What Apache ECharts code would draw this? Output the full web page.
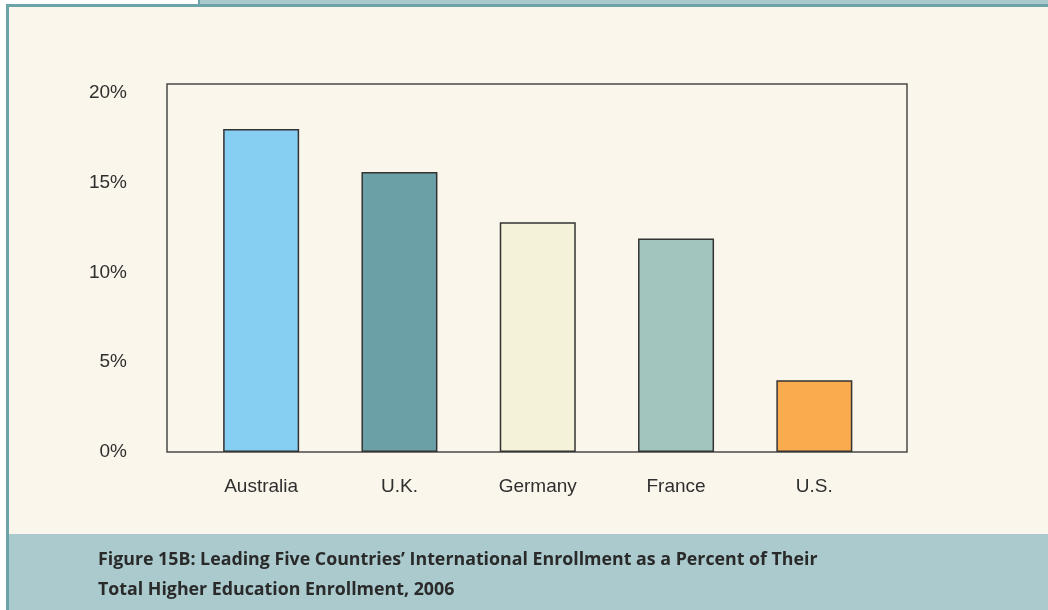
<!DOCTYPE html>
<html>
<head>
<meta charset="utf-8">
<script src="https://cdn.jsdelivr.net/npm/echarts@6/dist/echarts.min.js"></script>
<style>
  html, body { margin: 0; padding: 0; background: #fff; }
  #chart { width: 1048px; height: 610px; }
</style>
</head>
<body>
<div id="chart"></div>
<script>
// data
const countries = ['Australia', 'U.K.', 'Germany', 'France', 'U.S.'];
const enrollmentPct = [18.0, 15.6, 12.8, 11.9, 4.0];
const barColors = ['#87cff2', '#6aa0a6', '#f4f2d8', '#a2c5bd', '#f9ab4d'];
const yStep = 5;
const yMax = 20.5; // frame goes a little above the 20% tick

const axisFont = '"Liberation Sans", Arial, sans-serif';

const chart = echarts.init(document.getElementById('chart'));

const option = {
  backgroundColor: '#ffffff',
  animation: false,
  title: {
    text: 'Figure 15B: Leading Five Countries\u2019 International Enrollment as a Percent of Their\nTotal Higher Education Enrollment, 2006',
    left: 93,
    top: 540,
    textStyle: {
      fontFamily: '"Open Sans", Lato, sans-serif',
      fontWeight: 'bold',
      fontSize: 17.8,
      lineHeight: 30,
      color: '#2a2a2a'
    }
  },
  graphic: [
    // page frame
    { type: 'rect', z: -10, shape: { x: 198, y: 0, width: 850, height: 5 }, style: { fill: '#a9c9cc' } },
    { type: 'rect', z: -10, shape: { x: 9, y: 7, width: 1039, height: 527 }, style: { fill: '#faf6eb' } },
    { type: 'rect', z: -10, shape: { x: 9, y: 534, width: 1039, height: 76 }, style: { fill: '#aacacd' } },
    { type: 'rect', z: -9, shape: { x: 6, y: 4, width: 1042, height: 3 }, style: { fill: '#6aa3a8' } },
    { type: 'rect', z: -9, shape: { x: 6, y: 4, width: 3, height: 606 }, style: { fill: '#6aa3a8' } },
    { type: 'rect', z: -9, shape: { x: 198, y: 0, width: 2, height: 5 }, style: { fill: '#6aa3a8' } }
  ],
  grid: [
    { left: 167, top: 84, width: 740, height: 368, show: true, borderColor: '#4a4a4a', borderWidth: 1.5, backgroundColor: 'transparent' },
    { left: 192, top: 84, width: 691.5, height: 368 }
  ],
  xAxis: [
    { gridIndex: 0, type: 'value', show: false },
    {
      gridIndex: 1,
      type: 'category',
      data: countries,
      axisLine: { show: false },
      axisTick: { show: false },
      axisLabel: { margin: 25, fontFamily: axisFont, fontSize: 19, color: '#2f2f2f' }
    }
  ],
  yAxis: [
    {
      gridIndex: 0,
      type: 'value',
      min: 0,
      max: yMax,
      interval: yStep,
      axisLine: { show: false },
      axisTick: { show: false },
      splitLine: { show: false },
      axisLabel: {
        formatter: '{value}%',
        showMaxLabel: false,
        margin: 40,
        fontFamily: axisFont,
        fontSize: 19,
        color: '#2f2f2f'
      }
    },
    { gridIndex: 1, type: 'value', min: 0, max: yMax, show: false }
  ],
  series: [
    {
      type: 'bar',
      xAxisIndex: 1,
      yAxisIndex: 1,
      barWidth: 76,
      data: enrollmentPct.map((v, i) => ({
        value: v,
        itemStyle: { color: barColors[i] }
      })),
      itemStyle: { borderColor: '#333333', borderWidth: 1.5 }
    }
  ]
};

option && chart.setOption(option);
window.addEventListener('resize', function () {
  chart.resize();
});
</script>
</body>
</html>
